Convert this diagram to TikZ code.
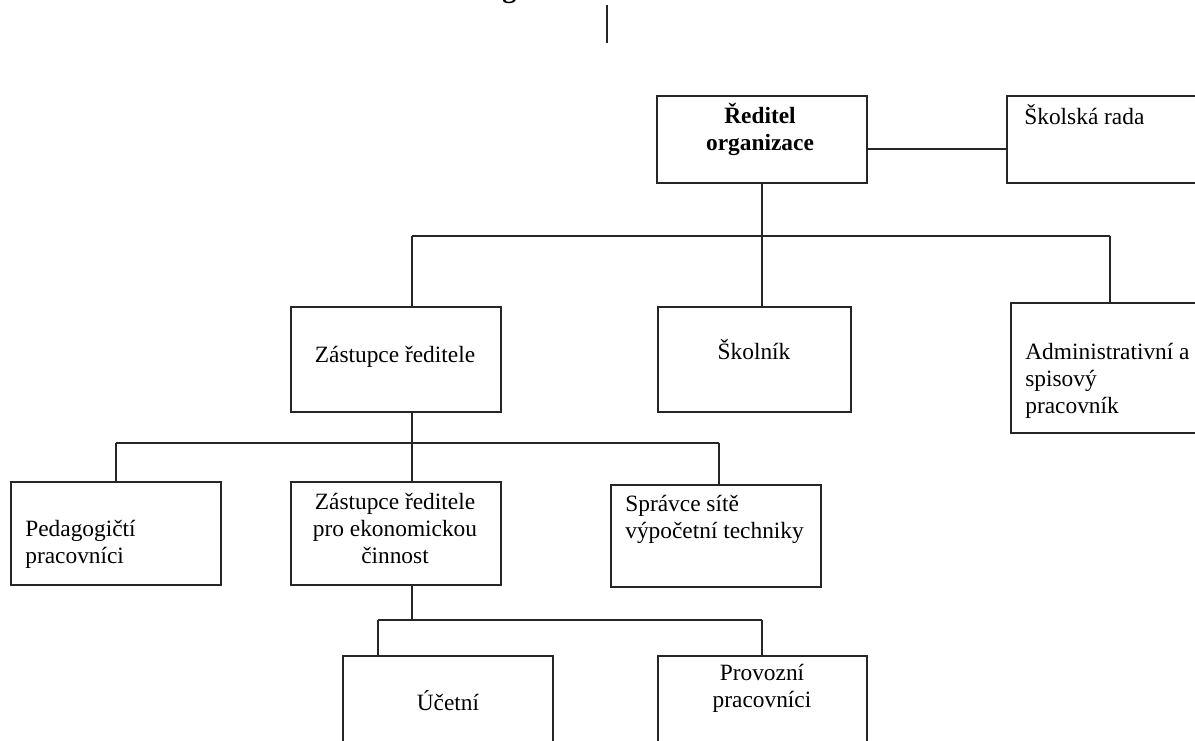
\documentclass[tikz,border=0pt]{standalone}
\usepackage{fontspec}
\setmainfont{Liberation Serif}
\usetikzlibrary{positioning}

\begin{document}
\begin{tikzpicture}[
    x=0.02cm, y=-0.02cm,
    box/.style={rectangle, draw=black!85, line width=0.9pt, anchor=north west, inner sep=0pt},
    txt/.style={font=\fontsize{13.3}{15.1}\selectfont, inner sep=0pt, align=center, anchor=base},
    txtl/.style={txt, align=left, anchor=base west},
    link/.style={draw=black!85, line width=0.9pt}
]
    \useasboundingbox (0,0) rectangle (1195,740);
    \clip (0,0) rectangle (1195,740);

    % Cut-off title and line above
    \node[font=\bfseries\fontsize{16}{19}\selectfont, inner sep=0pt, anchor=base west] (titlefrag) at (502,-2) {g};
    \coordinate (top1) at (607,5);
    \coordinate (top2) at (607,43);

    % Boxes
    \node[box, minimum width=4.2cm, minimum height=1.74cm] (reditel) at (656,95) {};
    \node[box, minimum width=4.4cm, minimum height=1.74cm] (rada) at (1006,95) {};
    \node[box, minimum width=4.2cm, minimum height=2.1cm] (zast) at (290,306) {};
    \node[box, minimum width=3.86cm, minimum height=2.1cm] (skolnik) at (657,306) {};
    \node[box, minimum width=4.4cm, minimum height=2.6cm] (admin) at (1010,302) {};
    \node[box, minimum width=4.2cm, minimum height=2.06cm] (pedag) at (10,481) {};
    \node[box, minimum width=4.2cm, minimum height=2.06cm] (ekon) at (290,481) {};
    \node[box, minimum width=4.2cm, minimum height=2.04cm] (spravce) at (610,484) {};
    \node[box, minimum width=4.2cm, minimum height=2.4cm] (ucetni) at (342,655) {};
    \node[box, minimum width=4.18cm, minimum height=2.4cm] (provoz) at (657,655) {};

    % Texts (placed at the baseline of their last line)
    \node[txt, font=\bfseries\fontsize{13.3}{15.1}\selectfont] (reditel-t) at (760,150) {Ředitel\\organizace};
    \node[txtl] (rada-t) at (1024,124) {Školská rada};
    \node[txt] (zast-t) at (395,362) {Zástupce ředitele};
    \node[txt] (skolnik-t) at (754,359) {Školník};
    \node[txtl] (admin-t) at (1025,413) {Administrativní a\\spisový\\pracovník};
    \node[txtl] (pedag-t) at (25,563) {Pedagogičtí\\pracovníci};
    \node[txt] (ekon-t) at (395,563) {Zástupce ředitele\\pro ekonomickou\\činnost};
    \node[txtl] (spravce-t) at (625,538) {Správce sítě\\výpočetní techniky};
    \node[txt] (ucetni-t) at (448,710) {Účetní};
    \node[txt] (provoz-t) at (762,707) {Provozní\\pracovníci};

    % Bus lines
    \coordinate (bus1w) at (412,236);
    \coordinate (bus1e) at (1110,236);
    \coordinate (bus2w) at (116,443);
    \coordinate (bus2e) at (719,443);
    \coordinate (bus3w) at (378,620);
    \coordinate (bus3e) at (762,620);

    % Connectors
    \draw[link] (top1) -- (top2);
    \draw[link] ([yshift=-5.4pt]reditel.east) -- ([yshift=-5.4pt]rada.west);
    \draw[link] (reditel.south) -- (reditel.south |- bus1w);
    \draw[link] (bus1w) -- (bus1e);
    \draw[link] (bus1w) -- (bus1w |- zast.north);
    \draw[link] (reditel.south |- bus1w) -- (reditel.south |- skolnik.north);
    \draw[link] (bus1e) -- (bus1e |- admin.north);
    \draw[link] (bus1w |- zast.south) -- (bus1w |- bus2w);
    \draw[link] (bus2w) -- (bus2e);
    \draw[link] (bus2w) -- (bus2w |- pedag.north);
    \draw[link] (bus1w |- bus2w) -- (bus1w |- ekon.north);
    \draw[link] (bus2e) -- (bus2e |- spravce.north);
    \draw[link] (bus1w |- ekon.south) -- (bus1w |- bus3w);
    \draw[link] (bus3w) -- (bus3e);
    \draw[link] (bus3w) -- (bus3w |- ucetni.north);
    \draw[link] (bus3e) -- (bus3e |- provoz.north);
\end{tikzpicture}
\end{document}
